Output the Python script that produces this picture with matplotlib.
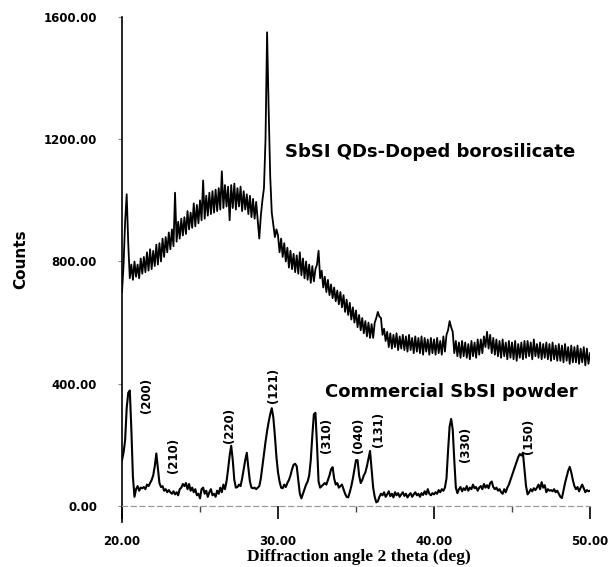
import numpy as np
import matplotlib
matplotlib.use("Agg")
import matplotlib.pyplot as plt
from matplotlib.ticker import FixedLocator

# ---------------- data ----------------
two_theta_start = 20.0
two_theta_step = 0.1

doped_counts = [
    700, 790, 930, 1020, 860, 745, 790, 740, 800, 750,
    790, 745, 810, 760, 815, 765, 830, 770, 840, 775,
    835, 785, 855, 790, 860, 800, 875, 815, 880, 830,
    895, 840, 905, 850, 1025, 865, 930, 875, 940, 885,
    945, 890, 965, 905, 960, 910, 990, 915, 985, 925,
    1000, 935, 1065, 940, 1015, 950, 1025, 955, 1030, 960,
    1035, 965, 1040, 970, 1095, 975, 1050, 980, 1045, 935,
    1050, 975, 1055, 970, 1040, 980, 1045, 965, 1030, 970,
    1020, 955, 1015, 945, 1005, 940, 995, 935, 875, 950,
    1000, 1040, 1200, 1550, 1300, 1080, 960, 920, 880, 905,
    885, 830, 875, 815, 860, 800, 845, 780, 835, 775,
    825, 765, 820, 760, 830, 755, 810, 745, 800, 740,
    790, 730, 785, 735, 775, 790, 835, 745, 770, 715,
    750, 700, 740, 690, 725, 680, 715, 670, 705, 660,
    700, 650, 690, 635, 675, 625, 665, 610, 650, 600,
    640, 585, 625, 575, 615, 565, 605, 555, 600, 550,
    595, 550, 600, 615, 635, 620, 615, 560, 580, 540,
    570, 520, 565, 515, 560, 520, 565, 510, 555, 515,
    560, 510, 555, 505, 560, 510, 550, 500, 555, 505,
    550, 500, 555, 495, 550, 505, 545, 495, 550, 500,
    545, 495, 550, 500, 540, 495, 555, 505, 560, 575,
    605, 585, 570, 500, 540, 490, 535, 485, 540, 490,
    535, 485, 530, 480, 540, 490, 535, 485, 545, 495,
    545, 500, 555, 520, 570, 515, 560, 500, 550, 495,
    545, 490, 540, 485, 545, 490, 535, 480, 540, 485,
    535, 480, 540, 475, 530, 485, 535, 480, 540, 485,
    540, 490, 535, 480, 545, 490, 530, 485, 535, 480,
    530, 485, 535, 480, 530, 475, 535, 480, 525, 475,
    530, 475, 525, 470, 530, 475, 520, 465, 525, 470,
    520, 470, 525, 465, 515, 470, 520, 460, 515, 465,
    500,
]

powder_counts = [
    150, 175, 215, 320, 370, 378, 250, 95, 30, 55,
    65, 50, 60, 58, 62, 55, 70, 65, 75, 85,
    100, 130, 172, 125, 75, 62, 65, 50, 55, 45,
    52, 45, 40, 48, 38, 45, 35, 55, 60, 72,
    65, 75, 55, 72, 50, 60, 45, 55, 35, 40,
    25, 55, 60, 40, 50, 30, 45, 55, 35, 40,
    30, 50, 40, 60, 45, 70, 55, 80, 120, 165,
    197, 150, 85, 60, 62, 70, 65, 90, 120, 150,
    174, 125, 80, 60, 58, 60, 55, 60, 65, 90,
    130, 170, 210, 245, 275, 300, 320, 290, 230, 160,
    110, 80, 60, 58, 70, 62, 75, 85, 100, 120,
    135, 138, 130, 85, 40, 25, 40, 55, 70, 80,
    100, 150, 230, 300, 305, 200, 80, 60, 65, 70,
    75, 70, 85, 100, 120, 127, 90, 70, 75, 60,
    65, 70, 55, 40, 30, 28, 45, 65, 90, 120,
    150, 150, 100, 75, 85, 100, 110, 130, 155, 180,
    120, 60, 30, 12, 15, 30, 40, 35, 45, 30,
    38, 48, 32, 40, 28, 45, 35, 42, 30, 38,
    45, 33, 40, 28, 36, 42, 30, 38, 45, 35,
    40, 30, 42, 36, 48, 38, 55, 40, 35, 42,
    38, 45, 40, 52, 45, 55, 50, 60, 90, 180,
    260, 285, 250, 150, 60, 42, 55, 62, 48, 58,
    52, 65, 50, 60, 55, 70, 58, 62, 50, 60,
    65, 55, 72, 60, 68, 58, 75, 80, 62, 55,
    60, 50, 55, 45, 40, 55, 45, 60, 70, 85,
    100, 115, 130, 145, 160, 170, 165, 174, 120, 65,
    38, 45, 55, 48, 58, 52, 60, 70, 55, 78,
    60, 68, 45, 55, 50, 52, 48, 55, 45, 50,
    40, 30, 26, 50, 75, 95, 115, 128, 110, 85,
    65, 55, 62, 48, 60, 70, 58, 45, 52, 48,
    50,
]

miller_labels = ["(200)", "(210)", "(220)", "(121)", "(310)",
                 "(040)", "(131)", "(330)", "(150)"]
x_tick_values = [20, 30, 40, 50]
x_tick_labels = ["20.00", "30.00", "40.00", "50.00"]
y_tick_values = [0, 400, 800, 1200, 1600]
y_tick_labels = ["0.00", "400.00", "800.00", "1200.00", "1600.00"]
series_names = ["SbSI QDs-Doped borosilicate", "Commercial SbSI powder"]

# ---------------- layout (positions of annotations, data coords) ----------------
miller_pos = [(21.54, 363), (23.27, 167), (26.92, 265), (29.68, 396),
              (33.14, 232), (35.19, 232), (36.47, 249), (41.99, 203),
              (46.03, 229)]
series_label_pos = [(39.74, 1158), (41.09, 373)]

# ---------------- plotting ----------------
W, H = 608, 567
fig = plt.figure(figsize=(W / 100, H / 100), dpi=100)
ax = fig.add_axes([122 / W, 1 - 522 / H, 468 / W, 505 / H])

x1 = two_theta_start + two_theta_step * np.arange(len(doped_counts))
x2 = two_theta_start + two_theta_step * np.arange(len(powder_counts))
ax.plot(x1, doped_counts, color="black", lw=1.3)
ax.plot(x2, powder_counts, color="black", lw=1.5)

ax.set_xlim(20, 50)
ax.set_ylim(-52.4, 1600)

for s in ("top", "right"):
    ax.spines[s].set_visible(False)
ax.spines["left"].set_linewidth(1.2)
ax.spines["bottom"].set_position(("data", 0))
ax.spines["bottom"].set_linestyle((0, (4, 3)))
ax.spines["bottom"].set_color("#9a9a9a")
ax.spines["bottom"].set_linewidth(0.9)

tick_font = dict(family="DejaVu Sans", weight="bold", size=8.5)
ax.set_xticks(x_tick_values)
ax.set_xticklabels(x_tick_labels, **tick_font)
ax.xaxis.set_minor_locator(FixedLocator([25, 35, 45]))
ax.tick_params(axis="x", which="major", direction="out", length=9,
               width=1.2, color="black", pad=12)
ax.tick_params(axis="x", which="minor", direction="out", length=4.5,
               width=1.0, color="#444444")

ax.set_yticks(y_tick_values)
ax.set_yticklabels(y_tick_labels, **tick_font)
ax.tick_params(axis="y", which="major", direction="out", length=3,
               width=0.8, color="#888888", pad=15)

fig.text(359 / W, 1 - 557 / H, "Diffraction angle 2 theta (deg)",
         family="Liberation Serif", weight="bold", size=12.5,
         ha="center", va="center")
ax.set_ylabel("Counts", family="DejaVu Sans", weight="bold", size=11)
ax.yaxis.set_label_coords(-0.2, 0.52)

for name, (px, py) in zip(series_names, series_label_pos):
    ax.text(px, py, name, ha="center", va="center", family="DejaVu Sans",
            weight="bold", size=13)

for lab, (px, py) in zip(miller_labels, miller_pos):
    ax.text(px, py, lab, rotation=90, ha="center", va="center",
            family="DejaVu Sans", weight="bold", size=8.5)

fig.savefig("out.png", dpi=100)
